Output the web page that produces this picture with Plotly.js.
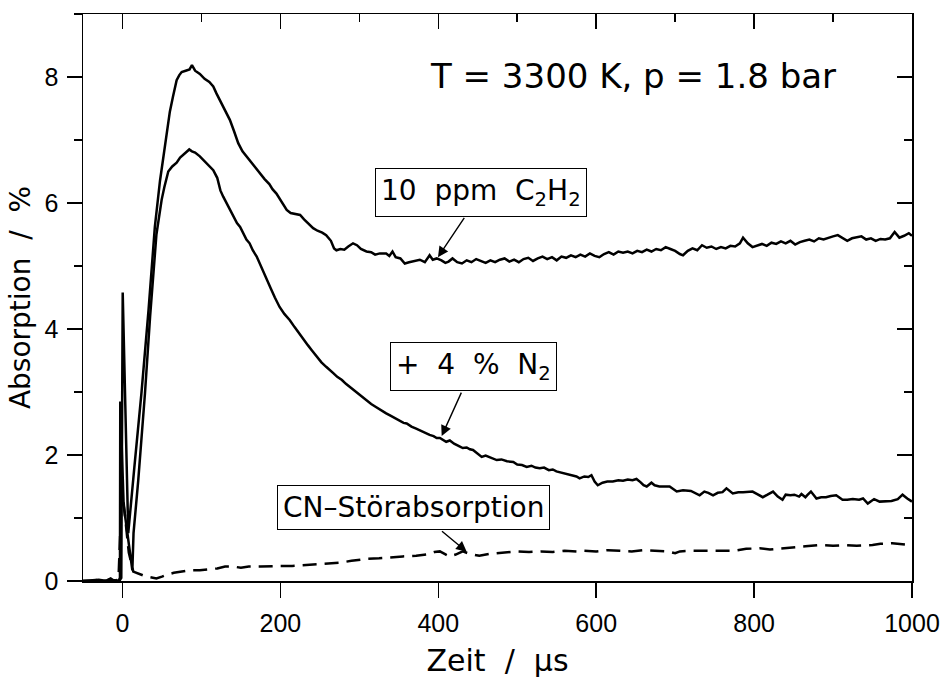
<!DOCTYPE html>
<html>
<head>
<meta charset="utf-8">
<script src="https://cdn.plot.ly/plotly-3.0.1.min.js"></script>
<style>html,body{margin:0;padding:0;background:#fff;}#chart{width:940px;height:679px;}</style>
</head>
<body>
<div id="chart"></div>
<script>
// ---- data ----
const xTicks = [0, 200, 400, 600, 800, 1000];
const xTickLabels = ['0', '200', '400', '600', '800', '1000'];
const yTicks = [0, 2, 4, 6, 8];
const yTickLabels = ['0', '2', '4', '6', '8'];

const seriesNames = ['10 ppm C2H2', '+ 4 % N2', 'CN-Störabsorption'];

const timeC2H2 = [
  -50,-40,-30,-20,-10,-4,-1.5,0.3,7.3,15,
  24,33,41,47.5,52,56,60,64,68.6,72,
  75,80,85,88,92,98,104,110,115,119,
  123,130,136,141,146.6,152,157,163,168,174,
  180,186,190,195,201,208,213,219,225,230,
  236,241.5,247,253,258,264,268,271,276,281,
  286,292,297,302,309,315,320,326,334,338,
  342,346,352,357.6,363,370,376.6,383,389,393,
  398,404,409,413,418,424,430,436,442,448,
  454,460,466,472,478,484,490,496,502,508,
  514,520,526,532,538,544,550,556,562,568,
  574,580,586,592,598,604,610,616,622,628,
  634,640,646,652,658,664,670,676,682,688,
  694,700,706,710,716,722,728,734,740,746,
  752,758,764,770,776,782,786,792,798,804,
  810,816,822,828,834,840,846,852,858,864,
  870,876,882,888,894,900,906,912,918,924,
  930,936,942,948,954,960,966,972,978,984,
  990,996,1000
];
const absC2H2 = [
  0,0.01,0.02,0,0.01,0,0.05,4.58,0.76,1.8,
  2.98,4.3,5.62,6.35,6.72,7.05,7.45,7.69,7.95,8.03,
  8.08,8.1,8.12,8.19,8.1,8.05,7.97,7.92,7.85,7.74,
  7.64,7.48,7.32,7.15,6.95,6.82,6.74,6.65,6.57,6.47,
  6.38,6.3,6.22,6.15,6.03,5.89,5.84,5.82,5.81,5.74,
  5.66,5.6,5.56,5.53,5.49,5.4,5.28,5.25,5.27,5.26,
  5.31,5.36,5.33,5.27,5.23,5.22,5.18,5.2,5.2,5.16,
  5.23,5.14,5.12,5.04,5.06,5.08,5.1,5.06,5.17,5.1,
  5.12,5.09,5.05,5.07,5.12,5.06,5.04,5.09,5.06,5.11,
  5.08,5.05,5.09,5.06,5.1,5.12,5.07,5.1,5.06,5.11,
  5.13,5.08,5.12,5.15,5.11,5.14,5.09,5.15,5.13,5.17,
  5.14,5.18,5.15,5.2,5.16,5.14,5.19,5.22,5.18,5.23,
  5.21,5.23,5.2,5.24,5.22,5.26,5.23,5.27,5.25,5.3,
  5.27,5.24,5.19,5.17,5.24,5.28,5.25,5.33,5.29,5.31,
  5.27,5.3,5.28,5.32,5.31,5.36,5.45,5.36,5.3,5.33,
  5.35,5.32,5.37,5.35,5.39,5.36,5.4,5.34,5.38,5.4,
  5.42,5.39,5.44,5.42,5.45,5.47,5.49,5.45,5.4,5.44,
  5.46,5.47,5.42,5.44,5.4,5.43,5.42,5.44,5.54,5.45,
  5.48,5.52,5.48
];

const timeN2 = [
  -50,-40,-30,-20,-10,-5,-3.2,-2.8,1.5,12.5,
  14,20,28.5,35,43,49.6,53,58,63,68.6,
  73,77,81,84.6,88,92,98,104,111,115,
  120,124,127.6,133,140,145,149,153,157,161,
  165,170,176,182.5,188,193,199,205,212,218,
  223,229,235,240,246,252,258,263,267,272,
  278,283,288,294,299,304,309,315,320,326,
  331,334,340,346,352,356,360,366,372,378,
  383,389,394,398,402,407,410,414.6,420,425,
  431,436,440,444,450,455,460,466,474,480,
  487,495,500,506,512,518,523,528.5,534,540,
  545,549.6,556,563,570,575,579,585,590,594,
  598,602,608,614,621,628,634,640,646,651,
  656,660,664,670,674,680,684,693,702,710,
  720,731,737,742,748,754,760,765,773,780,
  786,792,798,804,811,817,824,830,836,840,
  846,851,857,860,865,868,872,879,885,891,
  897,904,912,918,925,933,938,944,952,959,
  966,974,982,988,994,1000
];
const absN2 = [
  0,0,0.01,0,0,0,0.05,2.85,1.2,0.17,
  0.76,1.6,2.98,4.2,5.5,6.05,6.25,6.5,6.58,6.64,
  6.72,6.76,6.8,6.85,6.82,6.8,6.74,6.66,6.57,6.52,
  6.4,6.2,6.1,5.97,5.78,5.68,5.62,5.52,5.42,5.36,
  5.25,5.15,4.97,4.8,4.64,4.5,4.35,4.24,4.14,4.03,
  3.94,3.83,3.74,3.66,3.56,3.47,3.4,3.35,3.3,3.24,
  3.19,3.13,3.08,3.01,2.96,2.92,2.87,2.81,2.77,2.72,
  2.68,2.66,2.62,2.58,2.55,2.51,2.5,2.45,2.42,2.38,
  2.36,2.32,2.3,2.27,2.27,2.24,2.21,2.23,2.18,2.15,
  2.11,2.12,2.09,2.08,2.02,1.97,1.99,1.96,1.92,1.93,
  1.9,1.89,1.85,1.84,1.81,1.83,1.8,1.79,1.8,1.76,
  1.77,1.74,1.72,1.7,1.68,1.66,1.63,1.66,1.65,1.68,
  1.58,1.52,1.56,1.58,1.58,1.6,1.59,1.61,1.6,1.62,
  1.57,1.52,1.5,1.56,1.52,1.5,1.5,1.5,1.42,1.44,
  1.43,1.36,1.42,1.4,1.36,1.4,1.41,1.47,1.39,1.41,
  1.41,1.42,1.42,1.38,1.33,1.37,1.42,1.34,1.29,1.37,
  1.36,1.37,1.34,1.38,1.33,1.37,1.42,1.31,1.33,1.33,
  1.35,1.36,1.29,1.29,1.3,1.29,1.31,1.23,1.3,1.26,
  1.27,1.27,1.3,1.37,1.31,1.26
];

const timeCN = [
  -50,-40,-30,-25,-20,-15,-10,-7,-5,-3,
  -1,1,4,8,13.7,20,28,35,43,50,
  56,65,75,85,98,110,120,130,140,150,
  160,175,190,200,215,230,246,260,275,290,
  309,325,340,355,372,385,395,402,408,414,
  422,431,440,452,465,480,499,515,530,545,
  560,575,583,600,615,630,645,660,675,690,
  700,706,720,740,760,775,790,807,820,835,
  850,865,883,900,915,930,950,960,975,985,
  1000
];
const absCN = [
  0,0,0.02,0,0.01,0.04,0,0.02,0.05,0.6,
  1.39,1.3,0.9,0.45,0.15,0.12,0.08,0.06,0.04,0.07,
  0.1,0.13,0.15,0.17,0.17,0.18,0.2,0.23,0.23,0.21,
  0.23,0.23,0.24,0.24,0.24,0.25,0.27,0.28,0.29,0.32,
  0.35,0.36,0.38,0.39,0.4,0.42,0.46,0.47,0.43,0.39,
  0.42,0.47,0.43,0.4,0.43,0.45,0.47,0.46,0.47,0.46,
  0.48,0.47,0.48,0.47,0.49,0.48,0.47,0.49,0.48,0.47,
  0.44,0.47,0.48,0.48,0.49,0.48,0.51,0.52,0.5,0.52,
  0.54,0.55,0.57,0.56,0.57,0.56,0.57,0.59,0.6,0.59,
  0.57
];

// label texts, box centres (data units) and the points their arrows indicate
const labelTexts = [
  '10\u00a0\u00a0ppm\u00a0\u00a0C<sub>2</sub>H<sub>2</sub>',
  '+\u00a0\u00a04\u00a0\u00a0%\u00a0\u00a0N<sub>2</sub>',
  'CN\u2013St\u00f6rabsorption'
];
const labelX = [454.7, 444, 369.2];
const labelY = [6.17, 3.40, 1.16];
const arrowTipX = [399.6, 404.3, 436];
const arrowTipY = [5.14, 2.30, 0.465];
const conditionText = 'T = 3300 K, p = 1.8 bar';
const conditionX = 646;
const conditionY = 8.02;

// ---- chart ----
const FONT = 'DejaVu Sans, sans-serif';
const TICKFONT = 'Liberation Sans, Arial, sans-serif';
const lineStyle = {color: '#000', width: 2.5};

const traces = [
  {x: timeC2H2, y: absC2H2, name: seriesNames[0], mode: 'lines', line: lineStyle},
  {x: timeN2, y: absN2, name: seriesNames[1], mode: 'lines', line: lineStyle},
  {x: timeCN, y: absCN, name: seriesNames[2], mode: 'lines',
   line: {color: '#000', width: 2.5, dash: '14px,8px'}},
  // carriers for the mirrored top / right frame axes (single point: nothing drawn)
  {x: [0], y: [0], xaxis: 'x2', yaxis: 'y', mode: 'lines', line: {width: 0}, hoverinfo: 'skip'},
  {x: [0], y: [0], xaxis: 'x', yaxis: 'y2', mode: 'lines', line: {width: 0}, hoverinfo: 'skip'}
];

const annotations = [];
for (let i = 0; i < labelTexts.length; i++) {
  annotations.push({
    x: arrowTipX[i], y: arrowTipY[i], xref: 'x', yref: 'y',
    ax: labelX[i], ay: labelY[i], axref: 'x', ayref: 'y',
    text: labelTexts[i], showarrow: true,
    arrowhead: 2, arrowsize: 1.5, arrowwidth: 1.4, arrowcolor: '#000',
    standoff: 0, startstandoff: 2,
    font: {family: FONT, size: 28, color: '#000'},
    bordercolor: '#000', borderwidth: 1, borderpad: 5, bgcolor: '#fff'
  });
}
annotations.push({
  x: conditionX, y: conditionY, xref: 'x', yref: 'y', text: conditionText,
  showarrow: false, xanchor: 'center', yanchor: 'middle',
  font: {family: FONT, size: 34, color: '#000'}
});

const axisCommon = {
  showgrid: false, zeroline: false, showline: true,
  linecolor: '#000', linewidth: 1.5, tickcolor: '#000', tickwidth: 1.5
};
const minorIn = {dtick: 1, tick0: 0, ticks: 'inside', ticklen: 8, tickwidth: 1.5, tickcolor: '#000', showgrid: false};

const layout = {
  width: 940, height: 679,
  margin: {l: 83, r: 28, t: 14, b: 98, pad: 0},
  paper_bgcolor: '#fff', plot_bgcolor: '#fff',
  showlegend: false,
  font: {family: FONT, color: '#000'},
  xaxis: Object.assign({}, axisCommon, {
    range: [-50, 1000], tickmode: 'array', tickvals: xTicks, ticktext: xTickLabels,
    ticks: 'outside', ticklen: 15, ticklabelstandoff: 4, ticklabeloverflow: 'allow',
    tickfont: {family: TICKFONT, size: 25, color: '#000'},
    title: {text: 'Zeit\u00a0\u00a0/\u00a0\u00a0\u00b5s', font: {family: FONT, size: 30, color: '#000'}, standoff: 14}
  }),
  yaxis: Object.assign({}, axisCommon, {
    range: [0, 9], tickmode: 'array', tickvals: yTicks, ticktext: yTickLabels,
    ticks: 'outside', ticklen: 15, ticklabelstandoff: 3,
    tickfont: {family: TICKFONT, size: 25, color: '#000'},
    minor: {dtick: 1, tick0: 0, ticks: 'outside', ticklen: 8, tickwidth: 1.5, tickcolor: '#000', showgrid: false},
    title: {text: 'Absorption\u00a0\u00a0/\u00a0\u00a0%', font: {family: FONT, size: 28, color: '#000'}, standoff: 6}
  }),
  xaxis2: Object.assign({}, axisCommon, {
    overlaying: 'x', side: 'top', anchor: 'y', range: [-50, 1000],
    tickmode: 'array', tickvals: xTicks, showticklabels: false,
    ticks: 'inside', ticklen: 15,
    minor: Object.assign({}, minorIn, {dtick: 100})
  }),
  yaxis2: Object.assign({}, axisCommon, {
    overlaying: 'y', side: 'right', anchor: 'x', range: [0, 9],
    tickmode: 'array', tickvals: yTicks, showticklabels: false,
    ticks: 'inside', ticklen: 15,
    minor: minorIn
  }),
  annotations: annotations
};

Plotly.newPlot('chart', traces, layout, {staticPlot: true, displayModeBar: false});
</script>
</body>
</html>
